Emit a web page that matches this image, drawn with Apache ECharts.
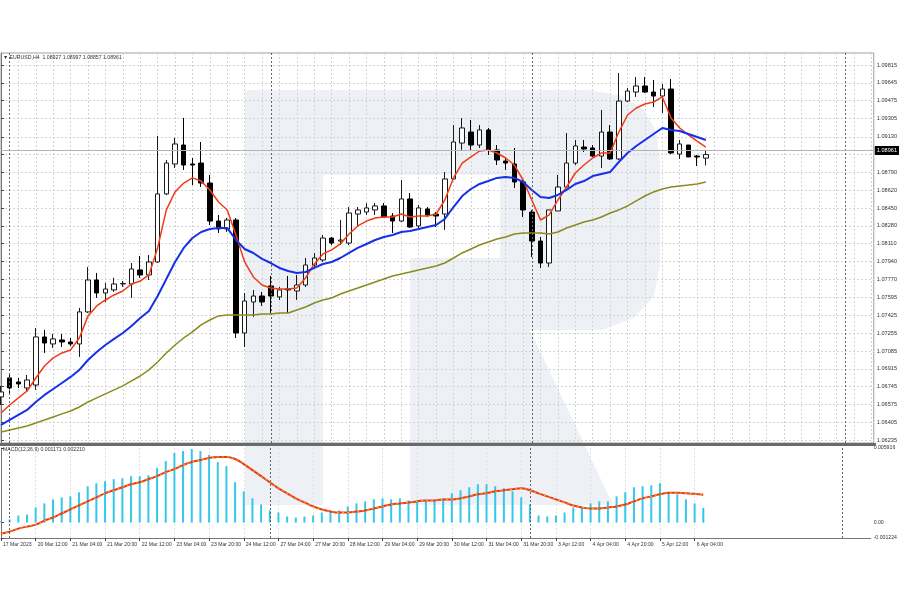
<!DOCTYPE html>
<html><head><meta charset="utf-8">
<script src="https://cdn.jsdelivr.net/npm/echarts@6/dist/echarts.min.js"></script>
<style>html,body{margin:0;padding:0;background:#fff}#c{width:900px;height:600px}</style>
</head><body><div id="c"></div>
<script>
// H4 bars, 17 Mar 2023 20:00 .. 6 Apr 2023 08:00
const opens = [1.06646,1.06828,1.06789,1.06732,1.06760,1.07219,1.07152,1.07190,1.07171,1.07152,
1.07458,1.07763,1.07639,1.07668,1.07725,1.07725,1.07859,1.07811,1.07935,1.08585,
1.08871,1.09052,1.08871,1.08880,1.08689,1.08326,1.08250,1.08336,1.07257,1.07553,
1.07610,1.07706,1.07601,1.07677,1.07658,1.07715,1.07906,1.07954,1.08164,1.08135,
1.08116,1.08393,1.08412,1.08432,1.08470,1.08374,1.08326,1.08537,1.08279,1.08441,
1.08393,1.08393,1.08728,1.09071,1.09176,1.09052,1.09196,1.09005,1.08899,1.08871,
1.08699,1.08412,1.08135,1.07925,1.08422,1.08651,1.08880,1.09033,1.09024,1.08947,
1.09176,1.08919,1.09472,1.09558,1.09616,1.09558,1.09520,1.09587,1.08966,1.09052,
1.08947,1.08927];
const closes = [1.06694,1.06732,1.06770,1.06808,1.07219,1.07161,1.07200,1.07171,1.07152,1.07458,
1.07763,1.07639,1.07677,1.07725,1.07729,1.07868,1.07811,1.07935,1.08585,1.08880,
1.09062,1.08861,1.08861,1.08689,1.08326,1.08250,1.08336,1.07257,1.07562,1.07610,
1.07553,1.07610,1.07668,1.07668,1.07715,1.07906,1.07973,1.08164,1.08116,1.08145,
1.08403,1.08432,1.08451,1.08470,1.08365,1.08326,1.08537,1.08269,1.08451,1.08384,
1.08374,1.08728,1.09081,1.09215,1.09052,1.09196,1.09005,1.08909,1.08880,1.08699,
1.08432,1.08135,1.07925,1.08432,1.08651,1.08880,1.09043,1.09014,1.08947,1.09176,
1.08919,1.09472,1.09568,1.09616,1.09558,1.09520,1.09587,1.08976,1.09062,1.08938,
1.08938,1.08961];
const lows = [1.06569,1.06665,1.06732,1.06694,1.06713,1.07066,1.07114,1.07123,1.07133,1.07028,
1.07448,1.07592,1.07553,1.07649,1.07696,1.07592,1.07783,1.07763,1.07925,1.08575,
1.08833,1.08814,1.08670,1.08651,1.08288,1.08212,1.08221,1.07209,1.07123,1.07410,
1.07515,1.07448,1.07572,1.07448,1.07572,1.07696,1.07887,1.07935,1.08097,1.08097,
1.08097,1.08269,1.08384,1.08384,1.08355,1.08212,1.08317,1.08260,1.08260,1.08365,
1.08269,1.08241,1.08718,1.09005,1.09005,1.09024,1.08957,1.08861,1.08814,1.08642,
1.08365,1.07983,1.07878,1.07887,1.08422,1.08642,1.08861,1.08985,1.08938,1.08833,
1.08909,1.08909,1.09463,1.09511,1.09549,1.09415,1.09358,1.08966,1.08919,1.08938,
1.08852,1.08857];
const highs = [1.06751,1.06875,1.06827,1.06856,1.07305,1.07286,1.07248,1.07248,1.07209,1.07496,
1.07887,1.07830,1.07734,1.07783,1.07753,1.07925,1.07993,1.08002,1.09139,1.08909,
1.09120,1.09311,1.08928,1.09081,1.08766,1.08384,1.08355,1.08355,1.07639,1.07668,
1.07649,1.07801,1.07696,1.07801,1.07811,1.07973,1.08021,1.08193,1.08174,1.08336,
1.08460,1.08460,1.08498,1.08498,1.08498,1.08403,1.08718,1.08594,1.08479,1.08460,
1.08412,1.08794,1.09243,1.09310,1.09291,1.09243,1.09215,1.09052,1.08938,1.09024,
1.08718,1.08432,1.08174,1.08432,1.08766,1.09167,1.09100,1.09100,1.09052,1.09387,
1.09243,1.09740,1.09597,1.09702,1.09702,1.09673,1.09635,1.09683,1.09100,1.09052,
1.08957,1.08997];
const maFast = [1.06493,1.06569,1.06637,1.06703,1.06827,1.06942,1.07019,1.07066,1.07095,1.07209,
1.07420,1.07515,1.07572,1.07620,1.07658,1.07725,1.07753,1.07811,1.08069,1.08432,
1.08604,1.08689,1.08738,1.08708,1.08623,1.08508,1.08432,1.08193,1.07935,1.07792,
1.07715,1.07687,1.07677,1.07677,1.07687,1.07782,1.07916,1.08012,1.08050,1.08107,
1.08202,1.08279,1.08326,1.08355,1.08365,1.08365,1.08393,1.08365,1.08374,1.08374,
1.08393,1.08527,1.08738,1.08880,1.08938,1.08995,1.09005,1.08976,1.08928,1.08861,
1.08718,1.08527,1.08336,1.08384,1.08527,1.08651,1.08785,1.08861,1.08928,1.08976,
1.08976,1.09176,1.09339,1.09406,1.09444,1.09463,1.09511,1.09310,1.09215,1.09148,
1.09090,1.09033];
const maMid = [1.06378,1.06426,1.06474,1.06522,1.06598,1.06665,1.06722,1.06779,1.06837,1.06904,
1.06999,1.07076,1.07142,1.07200,1.07257,1.07324,1.07400,1.07467,1.07610,1.07773,
1.07935,1.08069,1.08164,1.08221,1.08250,1.08260,1.08260,1.08145,1.08059,1.08021,
1.07964,1.07925,1.07878,1.07849,1.07830,1.07839,1.07878,1.07916,1.07935,1.07973,
1.08021,1.08069,1.08107,1.08145,1.08174,1.08193,1.08221,1.08231,1.08250,1.08269,
1.08288,1.08346,1.08460,1.08565,1.08632,1.08680,1.08708,1.08738,1.08747,1.08738,
1.08699,1.08623,1.08556,1.08546,1.08575,1.08623,1.08680,1.08708,1.08756,1.08775,
1.08794,1.08890,1.08976,1.09043,1.09100,1.09157,1.09215,1.09196,1.09186,1.09157,
1.09129,1.09100];
const maSlow = [1.06312,1.06331,1.06350,1.06369,1.06397,1.06426,1.06455,1.06484,1.06512,1.06550,
1.06598,1.06637,1.06675,1.06713,1.06751,1.06799,1.06846,1.06904,1.06980,1.07066,
1.07142,1.07209,1.07267,1.07334,1.07381,1.07420,1.07429,1.07429,1.07429,1.07429,
1.07439,1.07439,1.07448,1.07448,1.07477,1.07505,1.07543,1.07572,1.07591,1.07629,
1.07658,1.07687,1.07715,1.07744,1.07773,1.07801,1.07820,1.07839,1.07859,1.07878,
1.07897,1.07925,1.07973,1.08021,1.08059,1.08097,1.08126,1.08155,1.08174,1.08202,
1.08212,1.08212,1.08212,1.08202,1.08221,1.08260,1.08288,1.08317,1.08336,1.08365,
1.08403,1.08432,1.08470,1.08518,1.08565,1.08604,1.08632,1.08651,1.08661,1.08670,
1.08680,1.08699];
const macdHist = [0.00010,0.00024,0.00056,0.00064,0.00120,0.00152,0.00184,0.00200,0.00208,0.00240,
0.00288,0.00312,0.00328,0.00344,0.00352,0.00368,0.00368,0.00376,0.00432,0.00488,
0.00552,0.00568,0.00584,0.00568,0.00536,0.00480,0.00448,0.00320,0.00248,0.00192,
0.00144,0.00096,0.00080,0.00048,0.00040,0.00048,0.00056,0.00080,0.00088,0.00096,
0.00128,0.00152,0.00168,0.00184,0.00192,0.00184,0.00192,0.00176,0.00176,0.00176,
0.00176,0.00192,0.00232,0.00256,0.00280,0.00304,0.00304,0.00288,0.00272,0.00248,
0.00200,0.00144,0.00056,0.00048,0.00056,0.00080,0.00120,0.00120,0.00152,0.00168,
0.00168,0.00208,0.00240,0.00280,0.00288,0.00296,0.00312,0.00240,0.00224,0.00184,
0.00152,0.001171];
const macdSignal = [-0.00088,-0.00072,-0.00048,-0.00032,-0.00016,0.00016,0.00040,0.00072,0.00104,0.00136,
0.00168,0.00200,0.00232,0.00256,0.00280,0.00304,0.00320,0.00344,0.00368,0.00400,
0.00424,0.00456,0.00480,0.00496,0.00512,0.00520,0.00520,0.00504,0.00464,0.00416,
0.00368,0.00320,0.00272,0.00232,0.00192,0.00160,0.00128,0.00104,0.00088,0.00080,
0.00080,0.00088,0.00096,0.00112,0.00128,0.00144,0.00152,0.00160,0.00168,0.00176,
0.00176,0.00184,0.00184,0.00192,0.00208,0.00224,0.00232,0.00248,0.00256,0.00264,
0.00272,0.00256,0.00232,0.00208,0.00184,0.00160,0.00136,0.00120,0.00112,0.00112,
0.00120,0.00128,0.00144,0.00168,0.00192,0.00208,0.00224,0.00236,0.00236,0.00232,
0.00228,0.002210];
const timeLabels = ['17 Mar 2023','20 Mar 12:00','21 Mar 04:00','21 Mar 20:00','22 Mar 12:00','23 Mar 04:00',
'23 Mar 20:00','24 Mar 12:00','27 Mar 04:00','27 Mar 20:00','28 Mar 12:00','29 Mar 04:00','29 Mar 20:00',
'30 Mar 12:00','31 Mar 04:00','31 Mar 20:00','3 Apr 12:00','4 Apr 04:00','4 Apr 20:00','5 Apr 12:00','6 Apr 04:00'];
const priceGrid = [1.06235,1.06405,1.06575,1.06745,1.06915,1.07085,1.07255,1.07425,1.07595,1.07770,1.07940,
1.08110,1.08280,1.08450,1.08620,1.08790,1.08960,1.09130,1.09305,1.09475,1.09645,1.09815];
const priceLabels = [1.06235,1.06405,1.06575,1.06745,1.06915,1.07085,1.07255,1.07425,1.07595,1.07770,1.07940,
1.08110,1.08280,1.08450,1.08620,1.08790,1.09130,1.09305,1.09475,1.09645,1.09815];
const macdTicks = [-0.001224, 0, 0.005916];
const separators = [1, 31, 61, 97];

const N = opens.length;
const labelIdx = timeLabels.map((_, k) => k * 4);
const gridIdx = Array.from({length: 51}, (_, k) => k * 2);
const candles = opens.map((o, i) => [i, o, closes[i], lows[i], highs[i]]);
const pts = arr => arr.map((v, i) => [i, v]);
const lastClose = closes[N - 1];
const FONT = "'Liberation Sans', 'DejaVu Sans', sans-serif";
const txt = size => ({fontSize: size, color: '#333', fontFamily: FONT});
const sepLines = separators.map(v => ({xAxis: v}));

const wm = '#edf0f5';
const chart = echarts.init(document.getElementById('c'));
chart.setOption({
  animation: false,
  backgroundColor: '#ffffff',
  title: [
    {text: '\u25BC EURUSD,H4  ' + [opens[N-1], highs[N-1], lows[N-1], closes[N-1]].map(v => v.toFixed(5)).join(' '),
     left: 3, top: 55, padding: 0, textStyle: Object.assign({fontWeight: 'normal'}, txt(5.2))},
    {text: 'MACD(12,26,9) ' + macdHist[N-1].toFixed(6) + ' ' + macdSignal[N-1].toFixed(6),
     left: 3, top: 447, padding: 0, textStyle: Object.assign({fontWeight: 'normal'}, txt(5.2))}
  ],
  graphic: [
    {type: 'rect', z: -10, shape: {x: 245, y: 90, width: 78, height: 415}, style: {fill: wm}},
    {type: 'polygon', z: -10, shape: {points: [[323,90],[590,90],[622,96],[644,110],[656,132],[660,160],[660,265],[654,296],[634,318],[602,330],[530,330],[613,505],[410,505],[410,258],[500,258],[500,175],[323,175]]}, style: {fill: wm}},
    {type: 'rect', z: 50, shape: {x: 0, y: 443, width: 876, height: 3}, style: {fill: '#6a6a6a'}}
  ],
  grid: [
    {left: 1, right: 25, top: 53, height: 390, show: true, borderColor: '#a0a0a0', borderWidth: 1},
    {left: 1, right: 25, top: 448, height: 90}
  ],
  xAxis: [
    {type: 'value', gridIndex: 0, min: 0, max: 100.3,
     axisLine: {show: false}, axisLabel: {show: false},
     axisTick: {show: false, customValues: gridIdx},
     splitLine: {show: true, lineStyle: {color: '#d4d4d4', type: [2, 2], width: 1}}},
    {type: 'value', gridIndex: 1, min: 0, max: 100.3,
     axisLine: {show: true, onZero: false, lineStyle: {color: '#777', width: 1}},
     axisTick: {show: true, customValues: labelIdx, length: 3, lineStyle: {color: '#444'}},
     axisLabel: Object.assign({customValues: labelIdx, align: 'left', margin: 4, padding: [0, 0, 0, 2],
       showMinLabel: true, showMaxLabel: true, hideOverlap: false,
       formatter: v => timeLabels[labelIdx.indexOf(Math.round(v))] || ''}, txt(5.1)),
     splitLine: {show: true, lineStyle: {color: '#e0e0e0', type: [2, 2], width: 1}}}
  ],
  yAxis: [
    {type: 'value', gridIndex: 0, position: 'right', min: 1.06206, max: 1.09931,
     axisLine: {show: true, lineStyle: {color: '#777'}},
     axisTick: {show: true, customValues: priceGrid, length: 3, lineStyle: {color: '#444'}},
     axisLabel: Object.assign({customValues: priceLabels, margin: 3, formatter: v => v.toFixed(5)}, txt(5.6)),
     splitLine: {show: true, lineStyle: {color: '#d4d4d4', type: [2, 2], width: 1}}},
    {type: 'value', gridIndex: 1, position: 'right', min: -0.001224, max: 0.005916,
     axisLine: {show: true, lineStyle: {color: '#777'}},
     axisTick: {show: true, customValues: macdTicks, length: 3, lineStyle: {color: '#444'}},
     axisLabel: Object.assign({customValues: macdTicks, margin: 3, showMinLabel: true, showMaxLabel: true,
       formatter: v => (Math.abs(v) < 1e-9 ? '0.00' : v.toFixed(6))}, txt(5.2)),
     splitLine: {show: false}}
  ],
  series: [
    {type: 'candlestick', name: 'EURUSD', xAxisIndex: 0, yAxisIndex: 0, data: candles,
     encode: {x: 0, y: [1, 2, 3, 4]}, barWidth: 5,
     itemStyle: {color: '#ffffff', color0: '#000000', borderColor: '#1a1a1a', borderColor0: '#000000', borderWidth: 1},
     markLine: {symbol: 'none', silent: true, animation: false,
       data: [
         ...sepLines.map(d => Object.assign({lineStyle: {type: [2, 2], color: '#666', width: 1}, label: {show: false}}, d)),
         {yAxis: lastClose, lineStyle: {type: 'solid', color: '#b4b4b4', width: 1},
          label: {show: true, position: 'end', distance: 1, formatter: lastClose.toFixed(5),
                  backgroundColor: '#000', color: '#fff', fontSize: 5.6, fontFamily: FONT, padding: [2, 2, 1, 2]}}
       ]}},
    {type: 'line', name: 'MA fast', xAxisIndex: 0, yAxisIndex: 0, data: pts(maFast), showSymbol: false,
     lineStyle: {color: '#f03c16', width: 1.5}, z: 3},
    {type: 'line', name: 'MA mid', xAxisIndex: 0, yAxisIndex: 0, data: pts(maMid), showSymbol: false,
     lineStyle: {color: '#1530e6', width: 2}, z: 3},
    {type: 'line', name: 'MA slow', xAxisIndex: 0, yAxisIndex: 0, data: pts(maSlow), showSymbol: false,
     lineStyle: {color: '#8a8a1e', width: 1.5}, z: 3},
    {type: 'bar', name: 'MACD', xAxisIndex: 1, yAxisIndex: 1, data: pts(macdHist), barWidth: 2,
     itemStyle: {color: '#35c7ea'},
     markLine: {symbol: 'none', silent: true, animation: false,
       data: sepLines.map(d => Object.assign({lineStyle: {type: [2, 2], color: '#666', width: 1}, label: {show: false}}, d))}},
    {type: 'line', name: 'Signal', xAxisIndex: 1, yAxisIndex: 1, data: pts(macdSignal), showSymbol: false, smooth: true,
     lineStyle: {color: '#e83a12', width: 2}, z: 4},
    {type: 'line', name: 'Signal dots', xAxisIndex: 1, yAxisIndex: 1, data: pts(macdSignal), showSymbol: false, smooth: true,
     lineStyle: {color: '#f6b23a', width: 1, type: [2, 3]}, z: 5}
  ]
});
</script></body></html>
